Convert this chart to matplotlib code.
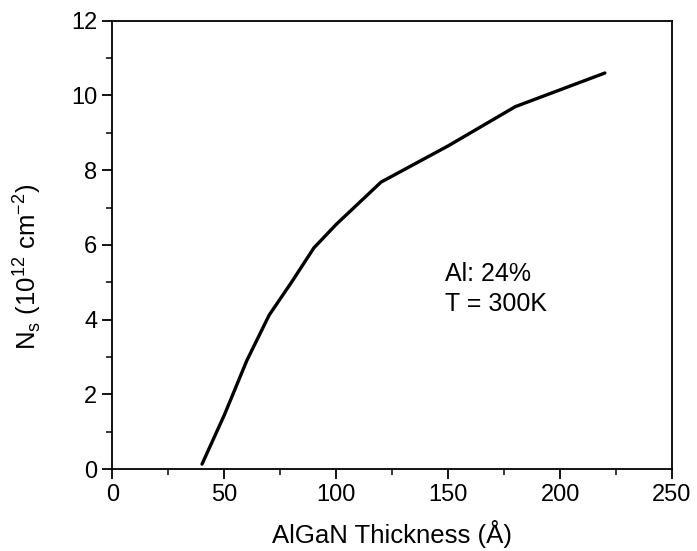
import matplotlib.pyplot as plt
from matplotlib.ticker import MultipleLocator

# AlGaN thickness (Angstrom) vs sheet carrier density Ns (1e12 cm^-2)
thickness = [40, 50, 60, 70, 80, 90, 100, 120, 150, 180, 220]
ns = [0.13, 1.45, 2.9, 4.12, 5.0, 5.92, 6.55, 7.68, 8.65, 9.7, 10.6]

plt.rcParams['font.family'] = ['Liberation Sans', 'DejaVu Sans']
plt.rcParams['mathtext.fontset'] = 'custom'
plt.rcParams['mathtext.rm'] = 'Liberation Sans'

fig = plt.figure(figsize=(6.97, 5.51), dpi=100)
ax = fig.add_axes([0.1614, 0.1488, 0.8027, 0.8136])

ax.plot(thickness, ns, color='black', lw=2.4, solid_capstyle='round')

ax.set_xlim(0, 250)
ax.set_ylim(0, 12)
ax.xaxis.set_major_locator(MultipleLocator(50))
ax.xaxis.set_minor_locator(MultipleLocator(25))
ax.yaxis.set_major_locator(MultipleLocator(2))
ax.yaxis.set_minor_locator(MultipleLocator(1))
ax.tick_params(which='major', direction='out', length=7, width=1.3, labelsize=17, pad=4)
ax.tick_params(which='minor', direction='out', length=4, width=1.1)
ax.tick_params(top=False, right=False)
for s in ax.spines.values():
    s.set_linewidth(1.3)

ax.set_xlabel('AlGaN Thickness (Å)', fontsize=18.5, labelpad=10)
ax.set_ylabel(r'N$_\mathregular{s}$ (10$^\mathregular{12}$ cm$^\mathregular{-2}$)', fontsize=18.5)
ax.yaxis.set_label_coords(-0.125, 0.45)

ax.text(148.6, 5.23, 'Al: 24%', fontsize=18, va='center', ha='left')
ax.text(148.6, 4.42, 'T = 300K', fontsize=18, va='center', ha='left')

fig.savefig('out.png', dpi=100)
